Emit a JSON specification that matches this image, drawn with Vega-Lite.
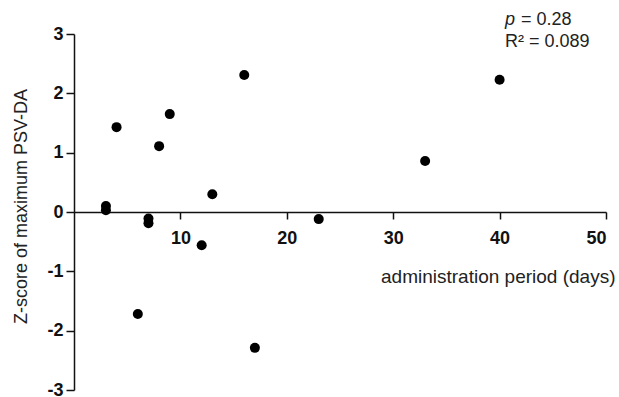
{
  "$schema": "https://vega.github.io/schema/vega-lite/v6.json",
  "width": 532,
  "height": 356,
  "autosize": "none",
  "padding": {"left": 74, "top": 34, "right": 13, "bottom": 7},
  "background": "white",
  "config": {
    "view": {"stroke": null},
    "font": "Liberation Sans",
    "axis": {"grid": false, "domainColor": "#111", "tickColor": "#111", "labelColor": "#111", "titleColor": "#222", "domainWidth": 1.5, "tickWidth": 1.5}
  },
  "layer": [
    {
      "data": {"values": [
        {"days": 3, "z": 0.10},
        {"days": 3, "z": 0.03},
        {"days": 4, "z": 1.43},
        {"days": 6, "z": -1.72},
        {"days": 7, "z": -0.11},
        {"days": 7, "z": -0.19},
        {"days": 8, "z": 1.11},
        {"days": 9, "z": 1.65},
        {"days": 12, "z": -0.56},
        {"days": 13, "z": 0.30},
        {"days": 16, "z": 2.31},
        {"days": 17, "z": -2.29},
        {"days": 23, "z": -0.12},
        {"days": 33, "z": 0.86},
        {"days": 40, "z": 2.23}
      ]},
      "mark": {"type": "point", "filled": true, "size": 100, "color": "#000", "opacity": 1},
      "encoding": {
        "x": {"field": "days", "type": "quantitative",
          "scale": {"domain": [0, 50], "nice": false},
          "axis": {"values": [10, 20, 30, 40, 50], "offset": -178, "tickSize": 7, "labelFontSize": 18, "labelFontWeight": "bold", "labelPadding": 10,
            "title": "administration period (days)", "titleFontSize": 19, "titleFontWeight": "normal", "titleAnchor": null, "titleAlign": "right", "titleX": 541, "titleY": 70, "titleBaseline": "alphabetic"}},
        "y": {"field": "z", "type": "quantitative",
          "scale": {"domain": [-3, 3], "nice": false},
          "axis": {"values": [-3, -2, -1, 0, 1, 2, 3], "labelExpr": "'' + datum.value", "tickSize": 8, "labelFontSize": 18, "labelFontWeight": "bold", "labelPadding": 3,
            "title": "Z-score of maximum  PSV-DA", "titleFontSize": 18, "titleFontWeight": "normal", "titleAngle": -90, "titleAnchor": null, "titleAlign": "center", "titleX": -53, "titleY": 172, "titleBaseline": "middle"}}
      }
    },
    {
      "data": {"values": [{}]},
      "mark": {"type": "text", "text": "p", "fontStyle": "italic", "fontSize": 18, "align": "left", "baseline": "alphabetic", "color": "#222"},
      "encoding": {"x": {"datum": 40.5, "type": "quantitative"}, "y": {"datum": 3.15, "type": "quantitative"}}
    },
    {
      "data": {"values": [{}]},
      "mark": {"type": "text", "text": "= 0.28", "fontSize": 18, "align": "left", "baseline": "alphabetic", "color": "#222"},
      "encoding": {"x": {"datum": 42.0, "type": "quantitative"}, "y": {"datum": 3.15, "type": "quantitative"}}
    },
    {
      "data": {"values": [{}]},
      "mark": {"type": "text", "text": "R² = 0.089", "fontSize": 18, "align": "left", "baseline": "alphabetic", "color": "#222"},
      "encoding": {"x": {"datum": 40.5, "type": "quantitative"}, "y": {"datum": 2.78, "type": "quantitative"}}
    }
  ]
}
